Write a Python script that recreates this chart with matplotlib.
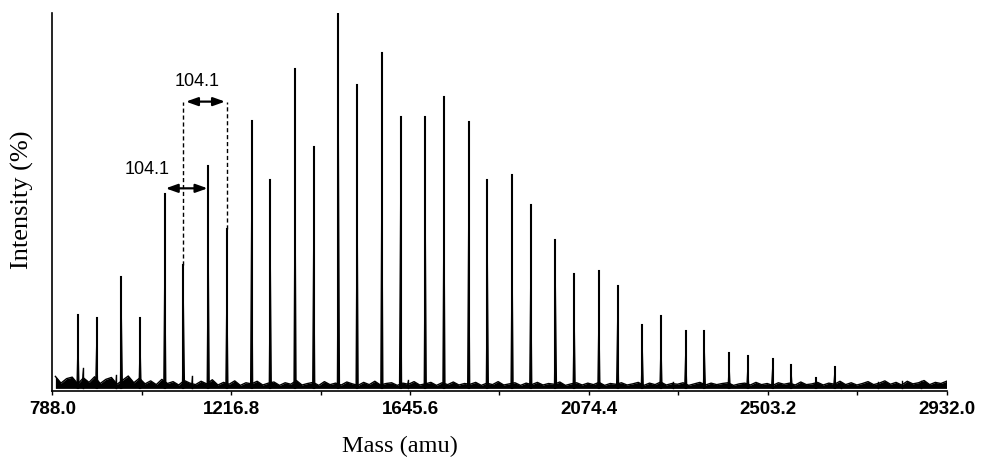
import numpy as np
import matplotlib
matplotlib.use("Agg")
import matplotlib.pyplot as plt

# oligomer series (repeat unit 104.1 amu), masses and relative intensity (%)
series_a_mass = [849.2, 953.3, 1057.4, 1161.5, 1265.6, 1369.7, 1473.8, 1577.9, 1682.0,
                 1786.1, 1890.2, 1994.3, 2098.4, 2202.5, 2306.6, 2410.7, 2514.8, 2618.9]
series_a_int = [19.5, 29.7, 51.8, 59.2, 71.3, 85.0, 100.0, 89.3, 72.2,
                70.9, 56.8, 39.5, 31.3, 16.9, 15.3, 9.5, 7.8, 2.8]

series_b_mass = [894.0, 998.1, 1102.2, 1206.3, 1310.4, 1414.5, 1518.6, 1622.7, 1726.8,
                 1830.9, 1935.0, 2039.1, 2143.2, 2247.3, 2351.4, 2455.5, 2559.6, 2663.7]
series_b_int = [18.7, 18.7, 32.9, 42.4, 55.4, 64.4, 80.8, 72.2, 77.5,
                55.4, 48.9, 30.6, 27.3, 19.3, 15.3, 8.6, 6.2, 5.8]

# small satellite peaks
minor_mass = [860.4, 940.3, 1122.5, 1639.8, 2275.0, 2680.0, 2768.0, 2826.0, 2872.0]
minor_int = [5.4, 3.5, 3.3, 2.2, 1.8, 1.5, 1.8, 2.0, 2.0]

# baseline noise level (795 -> 2932 amu)
noise_top = [3.2, 1.4, 2.6, 3.0, 1.2, 2.8, 1.6, 3.1, 1.3, 2.4,
             2.9, 1.1, 2.2, 3.3, 1.5, 2.7, 1.2, 2.0, 1.0, 2.4,
             1.3, 1.8, 0.9, 2.1, 1.4, 1.0, 1.9, 1.2, 2.3, 0.9,
             1.6, 1.1, 2.0, 0.8, 1.5, 1.2, 1.9, 0.9, 1.4, 1.7,
             0.8, 1.5, 1.1, 2.1, 0.9, 1.3, 1.6, 0.8, 1.8, 1.0,
             1.4, 0.9, 1.7, 1.2, 0.8, 1.6, 1.0, 1.9, 0.9, 1.3,
             1.5, 0.8, 1.4, 1.1, 1.8, 0.9, 1.2, 1.6, 0.8, 1.5,
             1.0, 1.7, 0.9, 1.3, 1.1, 1.6, 0.8, 1.4, 1.0, 1.8,
             0.9, 1.2, 1.5, 0.8, 1.4, 1.0, 1.6, 0.9, 1.3, 1.1,
             1.7, 0.8, 1.2, 1.5, 0.9, 1.4, 1.0, 1.6, 0.8, 1.3,
             1.1, 1.5, 0.9, 1.2, 1.6, 0.8, 1.4, 1.0, 1.7, 0.9,
             1.3, 1.1, 1.5, 0.8, 1.2, 1.6, 0.9, 1.4, 1.0, 1.3,
             1.5, 0.8, 1.2, 1.4, 0.9, 1.6, 1.0, 1.3, 0.8, 1.5,
             1.1, 1.4, 0.9, 1.7, 1.0, 1.2, 1.6, 0.9, 1.4, 1.1,
             1.9, 1.0, 1.5, 0.9, 1.3, 1.8, 1.0, 1.4, 2.0, 1.1,
             1.6, 0.9, 1.9, 1.2, 1.5, 2.1, 1.0, 1.6, 1.3, 1.9]
noise_mass = np.linspace(795, 2932, len(noise_top))

tick_labels = ["788.0", "1216.8", "1645.6", "2074.4", "2503.2", "2932.0"]
tick_pos = [float(t) for t in tick_labels]

fig = plt.figure(figsize=(9.88, 4.59), dpi=100)
ax = fig.add_axes([0.0531, 0.1481, 0.9049, 0.8235])

# noise band
ax.fill_between(noise_mass, 0, noise_top, color="black", lw=0)
ax.plot(noise_mass, noise_top, color="black", lw=1.0)

# peaks as narrow spikes
def draw_peaks(masses, heights, w, lw):
    for m, h in zip(masses, heights):
        ax.fill([m - w, m, m + w], [0, h, 0], color="black", lw=0)
        ax.plot([m, m], [0, h], color="black", lw=lw)

draw_peaks(series_a_mass, series_a_int, 4.0, 1.5)
draw_peaks(series_b_mass, series_b_int, 4.0, 1.5)
draw_peaks(minor_mass, minor_int, 2.5, 1.0)

# repeat-unit annotations
arrow = dict(arrowstyle="<|-|>,head_length=0.7,head_width=0.25", color="black",
             lw=1.6, shrinkA=0, shrinkB=0)
ax.plot([series_b_mass[2]] * 2, [series_b_int[2], 76.4], color="black", lw=1, ls=(0, (3, 2)))
ax.plot([series_b_mass[3]] * 2, [series_b_int[3], 76.4], color="black", lw=1, ls=(0, (3, 2)))
ax.annotate("", xy=(1108, 76.4), xytext=(1202, 76.4), arrowprops=arrow)
ax.text(1135.7, 81.7, "104.1", ha="center", va="center", fontsize=13, family="Liberation Sans")
ax.annotate("", xy=(1059.5, 53.3), xytext=(1160, 53.3), arrowprops=arrow)
ax.text(1013.9, 58.2, "104.1", ha="center", va="center", fontsize=13, family="Liberation Sans")

ax.set_xlim(788, 2932)
ax.set_ylim(-0.7, 100)
ax.spines["top"].set_visible(False)
ax.spines["right"].set_visible(False)
ax.spines["left"].set_linewidth(1.2)
ax.spines["bottom"].set_linewidth(1.2)
ax.set_yticks([])
ax.set_xticks(tick_pos)
ax.set_xticklabels(tick_labels, fontsize=13.5, fontweight="bold", family="Liberation Sans")
ax.set_xticks([1002.4, 1431.2, 1860.0, 2288.8, 2717.6], minor=True)
ax.tick_params(axis="x", which="both", direction="out", length=3, width=1, pad=4)

fig.text(400 / 988, 1 - 446 / 459, "Mass (amu)", ha="center", va="center",
         fontsize=17.5, family="Liberation Serif")
fig.text(22 / 988, 1 - 200 / 459, "Intensity (%)", ha="center", va="center",
         rotation=90, fontsize=19, family="Liberation Serif")

fig.savefig("out.png", dpi=100)
